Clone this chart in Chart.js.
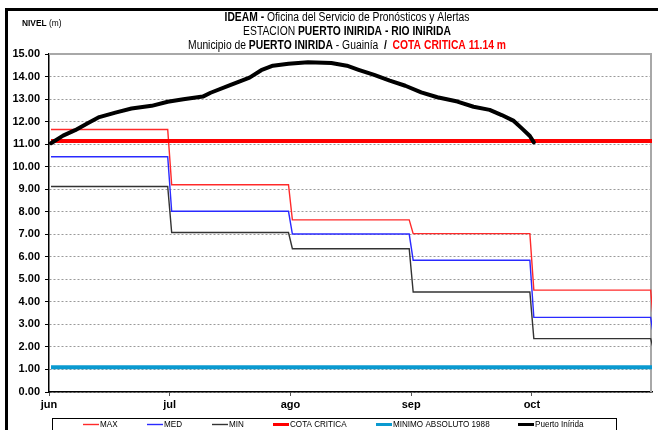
<!DOCTYPE html>
<html>
<head>
<meta charset="utf-8">
<script src="https://cdn.jsdelivr.net/npm/chart.js@4.4.1/dist/chart.umd.min.js"></script>
<style>
  html, body { margin: 0; padding: 0; background: #fff; }
  #wrap { width: 658px; height: 430px; position: relative; }
</style>
</head>
<body>
<div id="wrap"><canvas id="c" width="658" height="430"></canvas></div>
<script>
// Month axis (jun..oct) and the days in each month (jun..nov)
const monthLabels = ['jun', 'jul', 'ago', 'sep', 'oct'];
const monthDays = [30, 31, 31, 30, 31, 30];

// Historical monthly levels (m), jun..nov
const maxLevels = [11.65, 9.20, 7.64, 7.03, 4.52, 2.60];
const medLevels = [10.44, 8.02, 7.01, 5.85, 3.31, 2.20];
const minLevels = [9.12, 7.08, 6.36, 4.44, 2.37, 1.70];

// Reference levels (m)
const criticalLevel = 11.14;
const absoluteMinimum1988 = 1.10;

// Observed daily level at Puerto Inírida (month-day, m)
const obsDates = ['06-01','06-04','06-07','06-10','06-13','06-17','06-21','06-26','06-30',
                  '07-04','07-09','07-11','07-16','07-21','07-24','07-27','07-31',
                  '08-05','08-11','08-15','08-18','08-22','08-26','08-30',
                  '09-03','09-07','09-12','09-16','09-20','09-23','09-26','09-28','09-30','10-01'];
const obsLevels = [11.04, 11.38, 11.62, 11.92, 12.20, 12.40, 12.58, 12.70, 12.88,
                   12.99, 13.11, 13.28, 13.62, 13.95, 14.28, 14.48, 14.57,
                   14.63, 14.60, 14.48, 14.30, 14.07, 13.82, 13.59,
                   13.30, 13.08, 12.89, 12.66, 12.52, 12.29, 12.03, 11.70, 11.36, 11.08];

// month index + fraction of the month (day centred)
function dateToX(monthIdx, day) {
  return monthIdx + (day - 0.5) / monthDays[monthIdx];
}
function parseDate(s) {
  const [mm, dd] = s.split('-').map(Number);
  return dateToX(mm - 6, dd);
}
// monthly values held flat from the first to the last day of each month
function monthlySteps(levels) {
  const pts = [];
  levels.forEach((v, m) => {
    pts.push({ x: dateToX(m, 1), y: v });
    pts.push({ x: dateToX(m, monthDays[m]), y: v });
  });
  return pts;
}
function flatLine(v) {
  return [{ x: dateToX(0, 1), y: v }, { x: dateToX(5, 1), y: v }];
}

const SANS = '"Liberation Sans",Arial,sans-serif';

const datasets = [
  { label: 'MAX', data: monthlySteps(maxLevels), borderColor: '#ff2a2a', borderWidth: 1.4, order: 3 },
  { label: 'MED', data: monthlySteps(medLevels), borderColor: '#2a2aff', borderWidth: 1.4, order: 4 },
  { label: 'MIN', data: monthlySteps(minLevels), borderColor: '#333333', borderWidth: 1.4, order: 5 },
  { label: 'COTA CRITICA', data: flatLine(criticalLevel), borderColor: '#ff0000', borderWidth: 4, order: 2 },
  { label: 'MINIMO ABSOLUTO 1988', data: flatLine(absoluteMinimum1988), borderColor: '#0a9ad0', borderWidth: 4, order: 6 },
  { label: 'Puerto Inírida', data: obsDates.map((d, i) => ({ x: parseDate(d), y: obsLevels[i] })),
    borderColor: '#000000', borderWidth: 4, borderJoinStyle: 'round', borderCapStyle: 'round', order: 1 }
];
datasets.forEach(ds => { ds.pointRadius = 0; ds.tension = 0; ds.fill = false; });

// Title lines made of styled runs (condensed lettering)
const titleLines = [
  { y: 18, runs: [{ t: 'IDEAM - ', b: true }, { t: 'Oficina del Servicio de Pronósticos y Alertas' }] },
  { y: 31.5, runs: [{ t: 'ESTACION ' }, { t: 'PUERTO INIRIDA - RIO INIRIDA', b: true }] },
  { y: 45.5, runs: [{ t: 'Municipio de ' }, { t: 'PUERTO INIRIDA', b: true }, { t: ' - Guainía  ' },
                    { t: '/  ', b: true }, { t: 'COTA CRITICA 11.14 m', b: true, c: '#ff0000' }] }
];
const TITLE_SQUEEZE = 0.86;
const LEGEND_SQUEEZE = 0.9;
const legendStarts = [83, 147, 212, 273, 376, 518];

// draw text compressed horizontally, anchored on its left edge
function squeezedText(ctx, text, x, y, sx) {
  ctx.save();
  ctx.translate(x, y);
  ctx.scale(sx, 1);
  ctx.fillText(text, 0, 0);
  ctx.restore();
  return ctx.measureText(text).width * sx;
}

const decorPlugin = {
  id: 'decor',
  beforeDatasetsDraw(chart) {
    const { ctx, chartArea: a } = chart;
    ctx.save();
    ctx.strokeStyle = '#a8a8a8';
    ctx.lineWidth = 2;
    ctx.beginPath();
    ctx.moveTo(a.left, a.top);
    ctx.lineTo(a.right - 1, a.top);
    ctx.lineTo(a.right - 1, a.bottom);
    ctx.stroke();
    ctx.restore();
  },
  afterDraw(chart) {
    const { ctx } = chart;
    ctx.save();
    // outer frame
    ctx.fillStyle = '#000';
    ctx.fillRect(5, 8, 658 - 5, 3);
    ctx.fillRect(5, 8, 3, 430 - 8);

    // axis caption
    ctx.textBaseline = 'middle';
    ctx.textAlign = 'left';
    ctx.font = 'bold 9.5px ' + SANS;
    let cx = 22 + squeezedText(ctx, 'NIVEL ', 22, 23, 0.88);
    ctx.font = '9.5px ' + SANS;
    squeezedText(ctx, '(m)', cx, 23, 0.88);

    // title
    const centre = 347;
    titleLines.forEach(line => {
      let total = 0;
      line.runs.forEach(r => {
        ctx.font = (r.b ? 'bold ' : '') + '12px ' + SANS;
        r.w = ctx.measureText(r.t).width * TITLE_SQUEEZE;
        total += r.w;
      });
      let x = centre - total / 2;
      line.runs.forEach(r => {
        ctx.font = (r.b ? 'bold ' : '') + '12px ' + SANS;
        ctx.fillStyle = r.c || '#000';
        squeezedText(ctx, r.t, x, line.y, TITLE_SQUEEZE);
        x += r.w;
      });
    });

    // legend
    const ly = 424.5, lineLen = 16;
    ctx.strokeStyle = '#000';
    ctx.lineWidth = 1;
    ctx.strokeRect(52.5, 418.5, 564, 20);
    ctx.font = '9px ' + SANS;
    chart.data.datasets.forEach((ds, i) => {
      const x = legendStarts[i];
      ctx.strokeStyle = ds.borderColor;
      ctx.lineWidth = Math.min(ds.borderWidth, 3);
      ctx.beginPath();
      ctx.moveTo(x, ly);
      ctx.lineTo(x + lineLen, ly);
      ctx.stroke();
      ctx.fillStyle = '#000';
      squeezedText(ctx, ds.label, x + lineLen + 1, ly, LEGEND_SQUEEZE);
    });
    ctx.restore();
  }
};

new Chart(document.getElementById('c'), {
  type: 'line',
  data: { datasets },
  options: {
    responsive: false,
    animation: false,
    events: [],
    layout: { padding: { left: 0, right: 6, top: 54, bottom: 18 } },
    plugins: { legend: { display: false }, tooltip: { enabled: false }, title: { display: false } },
    scales: {
      x: {
        type: 'linear',
        min: 0,
        max: 4.995,
        afterBuildTicks(scale) { scale.ticks = monthLabels.map((_, i) => ({ value: i })); },
        afterFit(scale) { scale.height = 20; },
        ticks: {
          callback: v => monthLabels[v],
          color: '#000',
          font: { family: SANS, size: 11, weight: 'bold' },
          padding: 2,
          maxRotation: 0
        },
        grid: { drawOnChartArea: false, drawTicks: true, tickLength: 4, color: '#555', lineWidth: 1 },
        border: { display: true, color: '#000', width: 1.5 }
      },
      y: {
        min: 0,
        max: 15,
        afterFit(scale) { scale.width = 49; },
        ticks: {
          stepSize: 1,
          callback: v => v.toFixed(2),
          color: '#000',
          font: { family: SANS, size: 11, weight: 'bold' },
          padding: 5
        },
        grid: { color: '#9a9a9a', lineWidth: 1, tickColor: '#000', tickLength: 4, tickBorderDash: [] },
        border: { display: true, color: '#000', width: 1.5, dash: [2, 2] }
      }
    }
  },
  plugins: [decorPlugin]
});
</script>
</body>
</html>
